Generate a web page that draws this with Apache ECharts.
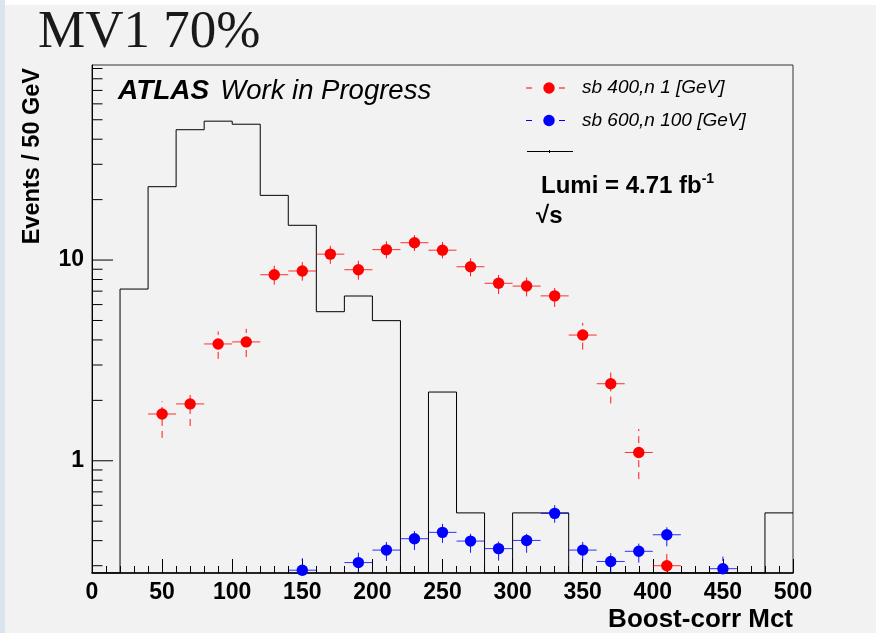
<!DOCTYPE html>
<html>
<head>
<meta charset="utf-8">
<script src="https://cdn.jsdelivr.net/npm/echarts@6/dist/echarts.min.js"></script>
<style>
  html, body { margin: 0; padding: 0; background: #f2f2f2; }
  #chart { width: 876px; height: 633px; }
</style>
</head>
<body>
<div id="chart"></div>
<script>
// ---- data ----
const xTickLabels = [0, 50, 100, 150, 200, 250, 300, 350, 400, 450, 500];
const yMajorTicks = [1, 10];
const yMinorTicks = [0.3, 0.4, 0.5, 0.6, 0.7, 0.8, 0.9, 2, 3, 4, 5, 6, 7, 8, 9, 20, 30, 40, 50, 60, 70, 80, 90];
const yMin = 0.276;
const yMax = 93.7;
const binWidth = 20;

// background histogram: bin edges and contents
const histEdges = [0, 20, 40, 60, 80, 100, 120, 140, 160, 180, 200, 220, 240, 260, 280, 300, 320, 340, 360, 380, 400, 420, 440, 460, 480, 500];
const histCounts = [0, 7.17, 23.2, 44.6, 49.2, 47.5, 21.0, 14.9, 5.53, 6.62, 4.99, 0, 2.20, 0.55, 0, 0.55, 0.55, 0, 0, 0, 0, 0, 0, 0, 0.55];

// signal point sb 400, n 1
const sig1X    = [50, 70, 90, 110, 130, 150, 170, 190, 210, 230, 250, 270, 290, 310, 330, 350, 370, 390, 410];
const sig1Y    = [1.71, 1.92, 3.82, 3.91, 8.45, 8.82, 10.7, 8.95, 11.27, 12.2, 11.2, 9.26, 7.66, 7.42, 6.63, 4.23, 2.42, 1.10, 0.30];
const sig1Low  = [1.30, 1.49, 3.22, 3.29, 7.54, 7.89, 9.58, 7.98, 10.2, 11.1, 10.2, 8.3, 6.77, 6.59, 5.84, 3.58, 1.93, 0.81, 0.27];
const sig1High = [1.98, 2.22, 4.41, 4.54, 9.40, 9.77, 11.78, 9.92, 12.4, 13.3, 12.3, 10.2, 8.51, 8.35, 7.42, 4.86, 2.77, 1.44, 0.345];

// signal point sb 600, n 100
const sig2X    = [150, 190, 210, 230, 250, 270, 290, 310, 330, 350, 370, 390, 410, 450];
const sig2Y    = [0.285, 0.311, 0.359, 0.409, 0.440, 0.398, 0.365, 0.401, 0.547, 0.359, 0.315, 0.354, 0.428, 0.290];
const sig2Low  = [0.25, 0.280, 0.317, 0.359, 0.390, 0.348, 0.318, 0.348, 0.491, 0.317, 0.279, 0.311, 0.375, 0.25];
const sig2High = [0.327, 0.352, 0.406, 0.460, 0.491, 0.443, 0.414, 0.446, 0.601, 0.406, 0.356, 0.401, 0.473, 0.333];

// ---- build series data ----
const histLine = [];
for (let i = 0; i < histCounts.length; i++) {
  const v = Math.max(histCounts[i], yMin);
  histLine.push([histEdges[i], v], [histEdges[i + 1], v]);
}
const sig1Data = sig1X.map((x, i) => [x, sig1Y[i], sig1Low[i], sig1High[i]]);
const sig2Data = sig2X.map((x, i) => [x, sig2Y[i], sig2Low[i], sig2High[i]]);
const yTickData = yMajorTicks.map(v => [0, v, 1]).concat(yMinorTicks.map(v => [0, v, 0]));

const FONT = 'Liberation Sans, Arial, Helvetica, sans-serif';

// marker with x/y error bars; error bars stop at the frame, markers do not
function errorPoints(color) {
  return function (params, api) {
    const x = api.value(0), y = api.value(1), lo = api.value(2), hi = api.value(3);
    const c = api.coord([x, y]);
    const l = api.coord([x - binWidth / 2, y]);
    const r = api.coord([x + binWidth / 2, y]);
    const b = api.coord([x, Math.max(lo, yMin)]);
    const t = api.coord([x, hi]);
    return {
      type: 'group',
      children: [
        { type: 'line', shape: { x1: l[0], y1: c[1], x2: r[0], y2: c[1] },
          style: { stroke: color, lineWidth: 1, opacity: 0.8 } },
        { type: 'line', shape: { x1: c[0], y1: b[1], x2: c[0], y2: t[1] },
          style: { stroke: color, lineWidth: 1, lineDash: [7, 5], opacity: 0.9 } },
        { type: 'circle', shape: { cx: c[0], cy: c[1], r: 5.7 },
          style: { fill: color } }
      ]
    };
  };
}

const chart = echarts.init(document.getElementById('chart'), null, { renderer: 'canvas' });

chart.setOption({
  animation: false,
  backgroundColor: '#f2f2f2',
  grid: {
    left: 92, top: 65, width: 701, height: 508,
    show: true, borderColor: '#333', borderWidth: 1, backgroundColor: 'transparent'
  },
  xAxis: {
    type: 'value', min: 0, max: 500, interval: 50,
    axisLine: { show: true, onZero: false, lineStyle: { color: '#000', width: 1.5 } },
    axisTick: { show: true, inside: true, length: 14, lineStyle: { color: '#000', width: 1 } },
    minorTick: { show: true, splitNumber: 5, length: 7, lineStyle: { color: '#000', width: 1 } },
    splitLine: { show: false },
    axisLabel: {
      margin: 8, color: '#000', fontFamily: FONT, fontWeight: 'bold', fontSize: 23,
      formatter: v => (xTickLabels.indexOf(v) >= 0 ? String(v) : '')
    }
  },
  yAxis: {
    type: 'log', logBase: 10, min: yMin, max: yMax,
    axisLine: { show: true, lineStyle: { color: '#000', width: 1 } },
    axisTick: { show: false },
    splitLine: { show: false },
    axisLabel: {
      margin: 8, color: '#000', fontFamily: FONT, fontWeight: 'bold', fontSize: 23,
      showMinLabel: false, showMaxLabel: false,
      formatter: v => {
        for (const m of yMajorTicks) { if (Math.abs(v - m) < 1e-6 * m) return String(m); }
        return '';
      }
    }
  },
  series: [
    {
      // y-axis ticks drawn inward through the log scale
      type: 'custom',
      coordinateSystem: 'cartesian2d',
      silent: true,
      z: 5,
      data: yTickData,
      renderItem: function (params, api) {
        const p = api.coord([0, api.value(1)]);
        const len = api.value(2) ? 21 : 10.5;
        return { type: 'line', shape: { x1: p[0], y1: p[1], x2: p[0] + len, y2: p[1] },
                 style: { stroke: '#000', lineWidth: 1 } };
      }
    },
    {
      name: 'background',
      type: 'line',
      data: histLine,
      showSymbol: false,
      clip: true,
      lineStyle: { color: '#000', width: 1 },
      z: 3
    },
    {
      name: 'sb 400,n 1 [GeV]',
      type: 'custom',
      coordinateSystem: 'cartesian2d',
      clip: false,
      encode: { x: 0, y: 1 },
      data: sig1Data,
      renderItem: errorPoints('#ff0000'),
      z: 6
    },
    {
      name: 'sb 600,n 100 [GeV]',
      type: 'custom',
      coordinateSystem: 'cartesian2d',
      clip: false,
      encode: { x: 0, y: 1 },
      data: sig2Data,
      renderItem: errorPoints('#0000ff'),
      z: 6
    }
  ],
  graphic: [
    // window edges
    { type: 'rect', left: 0, top: 0, shape: { width: 876, height: 5 }, style: { fill: '#ffffff' }, silent: true },
    { type: 'rect', left: 0, top: 0, shape: { width: 5, height: 633 }, style: { fill: '#dbe3ee' }, silent: true },
    // title
    { type: 'text', x: 38, y: 33, style: { text: 'MV1 70%', font: '53px "Liberation Serif", "DejaVu Serif", serif',
      fill: '#1a1a1a', textVerticalAlign: 'middle' } },
    // experiment label
    { type: 'text', x: 118, y: 91, style: {
      text: '{a|ATLAS}{b|Work in Progress}', textVerticalAlign: 'middle',
      rich: {
        a: { fontFamily: FONT, fontStyle: 'italic', fontWeight: 'bold', fontSize: 28, fill: '#000', color: '#000' },
        b: { fontFamily: FONT, fontStyle: 'italic', fontWeight: 'normal', fontSize: 27.5, fill: '#000', color: '#000',
             padding: [0, 0, 0, 11] }
      } } },
    // y axis title
    { type: 'text', x: 33, y: 68, rotation: Math.PI / 2, style: {
      text: 'Events / 50 GeV', font: 'bold 23.5px ' + FONT, fill: '#000',
      textAlign: 'right', textVerticalAlign: 'middle' } },
    // x axis title
    { type: 'text', x: 793, y: 620, style: {
      text: 'Boost-corr Mct', font: 'bold 26px ' + FONT, fill: '#000',
      textAlign: 'right', textVerticalAlign: 'middle' } },
    // legend
    { type: 'line', shape: { x1: 526, y1: 88, x2: 532, y2: 88 }, style: { stroke: '#ff0000', lineWidth: 1 } },
    { type: 'line', shape: { x1: 559, y1: 88, x2: 565, y2: 88 }, style: { stroke: '#ff0000', lineWidth: 1 } },
    { type: 'circle', shape: { cx: 549, cy: 88, r: 5.7 }, style: { fill: '#ff0000' } },
    { type: 'text', x: 582, y: 88, style: { text: 'sb 400,n 1 [GeV]', font: 'italic 19px ' + FONT,
      fill: '#000', textVerticalAlign: 'middle' } },
    { type: 'line', shape: { x1: 526, y1: 120.5, x2: 532, y2: 120.5 }, style: { stroke: '#0000ff', lineWidth: 1 } },
    { type: 'line', shape: { x1: 559, y1: 120.5, x2: 565, y2: 120.5 }, style: { stroke: '#0000ff', lineWidth: 1 } },
    { type: 'circle', shape: { cx: 549, cy: 120.5, r: 5.7 }, style: { fill: '#0000ff' } },
    { type: 'text', x: 582, y: 120.5, style: { text: 'sb 600,n 100 [GeV]', font: 'italic 19px ' + FONT,
      fill: '#000', textVerticalAlign: 'middle' } },
    { type: 'line', shape: { x1: 527, y1: 151.5, x2: 573, y2: 151.5 }, style: { stroke: '#000', lineWidth: 1 } },
    { type: 'line', shape: { x1: 549.5, y1: 150, x2: 549.5, y2: 153 }, style: { stroke: '#000', lineWidth: 1 } },
    // luminosity
    { type: 'text', x: 541, y: 186, style: {
      text: 'Lumi = 4.71 fb{s|-1}', textVerticalAlign: 'middle',
      font: 'bold 24px ' + FONT, fill: '#000',
      rich: { s: { fontFamily: FONT, fontWeight: 'bold', fontSize: 14, verticalAlign: 'top', padding: [0, 0, 14, 0] } }
    } },
    { type: 'text', x: 536, y: 216, style: { text: '√s', font: 'bold 24px ' + FONT, fill: '#000', textVerticalAlign: 'middle' } }
  ]
});
</script>
</body>
</html>
